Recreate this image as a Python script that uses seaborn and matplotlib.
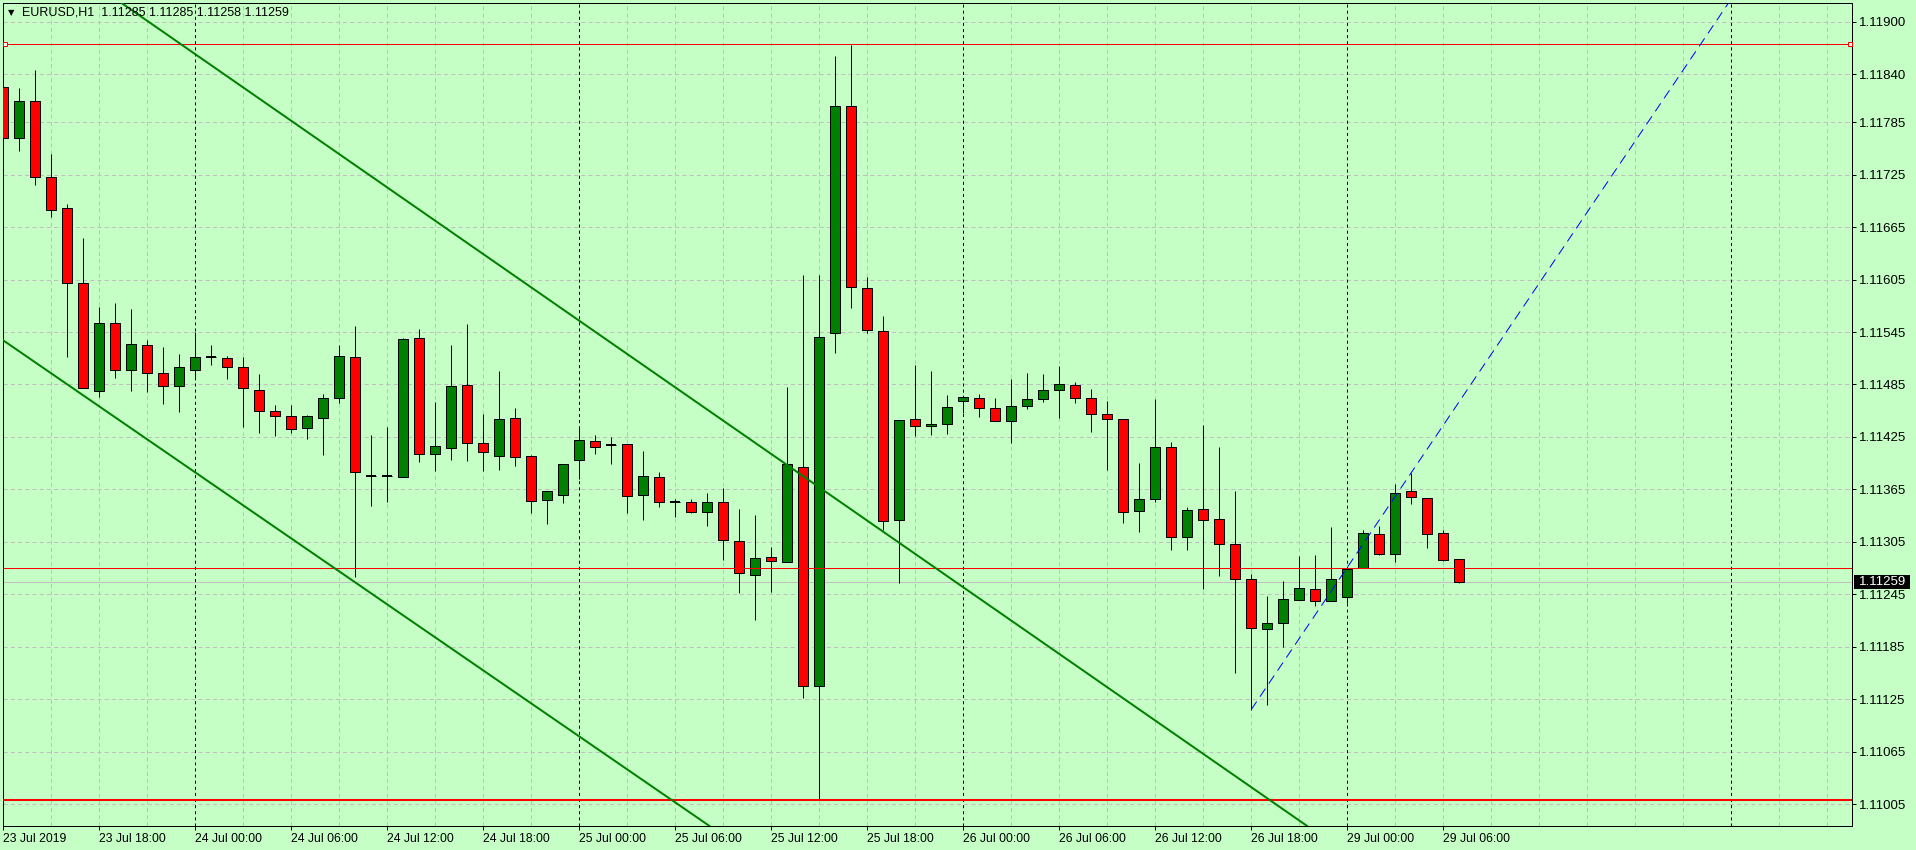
import numpy as np
import pandas as pd
import matplotlib
matplotlib.use("Agg")
import matplotlib.pyplot as plt
from matplotlib.patches import Rectangle
import seaborn as sns

# ---------------- data (EURUSD H1, bars from 23 Jul 12:00) ----------------
opens = [1.11825, 1.11767, 1.11809, 1.11722, 1.11687, 1.11601, 1.11478, 1.11555, 1.11502, 1.11530,
         1.11498, 1.11483, 1.11501, 1.11516, 1.11515, 1.11505, 1.11479, 1.11455, 1.11449, 1.11435,
         1.11447, 1.11470, 1.11516, 1.11380, 1.11380, 1.11379, 1.11538, 1.11405, 1.11412, 1.11484,
         1.11418, 1.11403, 1.11447, 1.11403, 1.11353, 1.11358, 1.11399, 1.11420, 1.11416, 1.11417,
         1.11358, 1.11379, 1.11351, 1.11351, 1.11339, 1.11351, 1.11306, 1.11267, 1.11288, 1.11282,
         1.11390, 1.11140, 1.11544, 1.11803, 1.11595, 1.11546, 1.11330, 1.11445, 1.11437, 1.11440,
         1.11466, 1.11469, 1.11458, 1.11443, 1.11460, 1.11468, 1.11479, 1.11484, 1.11470, 1.11451,
         1.11445, 1.11340, 1.11354, 1.11414, 1.11310, 1.11342, 1.11331, 1.11303, 1.11262, 1.11205,
         1.11212, 1.11238, 1.11251, 1.11237, 1.11242, 1.11275, 1.11314, 1.11291, 1.11363, 1.11355,
         1.11315, 1.11285]
highs = [1.11826, 1.11824, 1.11845, 1.11749, 1.11691, 1.11652, 1.11574, 1.11578, 1.11571, 1.11536,
         1.11528, 1.11520, 1.11545, 1.11530, 1.11518, 1.11516, 1.11497, 1.11461, 1.11462, 1.11450,
         1.11474, 1.11530, 1.11552, 1.11427, 1.11436, 1.11538, 1.11548, 1.11465, 1.11530, 1.11554,
         1.11451, 1.11500, 1.11458, 1.11404, 1.11363, 1.11394, 1.11435, 1.11427, 1.11425, 1.11417,
         1.11409, 1.11385, 1.11354, 1.11354, 1.11361, 1.11367, 1.11343, 1.11336, 1.11299, 1.11482,
         1.11610, 1.11610, 1.11861, 1.11873, 1.11608, 1.11563, 1.11444, 1.11507, 1.11500, 1.11473,
         1.11471, 1.11474, 1.11470, 1.11491, 1.11498, 1.11497, 1.11506, 1.11488, 1.11480, 1.11466,
         1.11445, 1.11395, 1.11468, 1.11419, 1.11345, 1.11439, 1.11413, 1.11363, 1.11268, 1.11243,
         1.11260, 1.11289, 1.11290, 1.11322, 1.11274, 1.11319, 1.11323, 1.11371, 1.11384, 1.11355,
         1.11319, 1.11285]
lows = [1.11756, 1.11752, 1.11713, 1.11677, 1.11516, 1.11481, 1.11471, 1.11492, 1.11477, 1.11476,
        1.11463, 1.11454, 1.11494, 1.11507, 1.11491, 1.11436, 1.11430, 1.11426, 1.11429, 1.11423,
        1.11404, 1.11464, 1.11265, 1.11346, 1.11351, 1.11379, 1.11396, 1.11386, 1.11399, 1.11398,
        1.11386, 1.11387, 1.11392, 1.11338, 1.11325, 1.11349, 1.11377, 1.11405, 1.11394, 1.11338,
        1.11330, 1.11345, 1.11333, 1.11338, 1.11323, 1.11284, 1.11247, 1.11216, 1.11248, 1.11282,
        1.11126, 1.11010, 1.11521, 1.11573, 1.11544, 1.11319, 1.11258, 1.11426, 1.11427, 1.11428,
        1.11452, 1.11448, 1.11443, 1.11418, 1.11457, 1.11465, 1.11447, 1.11464, 1.11431, 1.11387,
        1.11327, 1.11316, 1.11351, 1.11296, 1.11296, 1.11251, 1.11266, 1.11155, 1.11113, 1.11118,
        1.11185, 1.11238, 1.11232, 1.11237, 1.11235, 1.11275, 1.11290, 1.11282, 1.11348, 1.11298,
        1.11283, 1.11258]
closes = [1.11767, 1.11809, 1.11722, 1.11685, 1.11601, 1.11481, 1.11555, 1.11502, 1.11531, 1.11498,
          1.11483, 1.11505, 1.11516, 1.11516, 1.11505, 1.11481, 1.11455, 1.11449, 1.11434, 1.11449,
          1.11470, 1.11517, 1.11385, 1.11380, 1.11380, 1.11537, 1.11406, 1.11415, 1.11483, 1.11418,
          1.11408, 1.11446, 1.11402, 1.11352, 1.11363, 1.11394, 1.11421, 1.11414, 1.11416, 1.11357,
          1.11380, 1.11351, 1.11351, 1.11339, 1.11350, 1.11307, 1.11269, 1.11287, 1.11283, 1.11394,
          1.11140, 1.11539, 1.11803, 1.11596, 1.11547, 1.11329, 1.11444, 1.11438, 1.11440, 1.11459,
          1.11471, 1.11458, 1.11443, 1.11460, 1.11468, 1.11479, 1.11485, 1.11470, 1.11451, 1.11446,
          1.11339, 1.11354, 1.11413, 1.11310, 1.11341, 1.11330, 1.11303, 1.11263, 1.11206, 1.11212,
          1.11240, 1.11252, 1.11237, 1.11263, 1.11274, 1.11315, 1.11291, 1.11361, 1.11356, 1.11314,
          1.11284, 1.11259]

xtick_pos = [0, 6, 12, 18, 24, 30, 36, 42, 48, 54, 60, 66, 72, 78, 84, 90]
xtick_labels = ["23 Jul 2019", "23 Jul 18:00", "24 Jul 00:00", "24 Jul 06:00", "24 Jul 12:00",
                "24 Jul 18:00", "25 Jul 00:00", "25 Jul 06:00", "25 Jul 12:00", "25 Jul 18:00",
                "26 Jul 00:00", "26 Jul 06:00", "26 Jul 12:00", "26 Jul 18:00", "29 Jul 00:00",
                "29 Jul 06:00"]
ytick_values = [1.11900, 1.11840, 1.11785, 1.11725, 1.11665, 1.11605, 1.11545, 1.11485,
                1.11425, 1.11365, 1.11305, 1.11245, 1.11185, 1.11125, 1.11065, 1.11005]
day_separators = [12, 36, 60, 84, 108]

header_text = "EURUSD,H1  1.11285 1.11285 1.11258 1.11259"
bid_price = 1.11259
ask_price = 1.11275
hline_top = 1.11875
hline_bottom = 1.11010
blue_anchor_x = [78, 88]
blue_anchor_y = [1.11113, 1.11384]
upper_channel = [(7.11, 1.11925), (74.8, 1.11065)]
lower_channel = [(-0.2, 1.11538), (40.8, 1.11022)]

# ---------------- style ----------------
BG = "#C6FFC6"
GRID = "#C0C0C0"
BULL = "#008000"
BEAR = "#FF0000"
PX = 72.0 / 100.0  # points per pixel at dpi 100

sns.set_theme(style="white")
plt.rcParams["font.family"] = ["Liberation Sans", "DejaVu Sans"]
plt.rcParams["lines.scale_dashes"] = False

W, H = 1916, 850
fig = plt.figure(figsize=(W / 100, H / 100), dpi=100, facecolor=BG)
left_px, right_px, top_px, bot_px = 2.7, 1852.0, 2.7, 826.0
ax = fig.add_axes([left_px / W, (H - bot_px) / H, (right_px - left_px) / W, (bot_px - top_px) / H])
ax.set_facecolor(BG)

xmin, xmax = -0.03, 115.55
ymin, ymax = 1.109799, 1.119217
ax.set_xlim(xmin, xmax)
ax.set_ylim(ymin, ymax)

# grid
for yv in ytick_values:
    ax.axhline(yv, color=GRID, lw=PX, ls=(0, (3.0, 2.2)), zorder=0.5)
for xv in range(0, 116, 3):
    if xv in day_separators:
        continue
    ax.axvline(xv, color=GRID, lw=PX, ls=(0, (3.0, 2.2)), zorder=0.5)
for xv in day_separators:
    ax.axvline(xv, color="black", lw=PX, ls=(0, (2.2, 2.2)), zorder=0.6)

# candles
df = pd.DataFrame({"open": opens, "high": highs, "low": lows, "close": closes})
df["x"] = np.arange(len(df))
bull = df["close"] >= df["open"]
bottoms = np.minimum(df["open"], df["close"])
heights = (df["close"] - df["open"]).abs()
colors = np.where(bull, BULL, BEAR)
ax.vlines(df["x"], df["low"], df["high"], color="black", lw=PX, zorder=2)
ax.bar(df["x"], heights, width=0.6, bottom=bottoms, color=colors,
       edgecolor="black", linewidth=PX, zorder=3)
doji = heights < 0.000015
ax.hlines(df.loc[doji, "open"], df.loc[doji, "x"] - 0.33, df.loc[doji, "x"] + 0.33,
          color="black", lw=2 * PX, zorder=3.1)

# horizontal lines
ax.axhline(bid_price, color=GRID, lw=PX, zorder=1)
ax.axhline(ask_price, color="#FF0000", lw=PX, zorder=4)
ax.axhline(hline_top, color="#FF0000", lw=PX, zorder=4)
ax.axhline(hline_bottom, color="#FF0000", lw=2 * PX, zorder=4)
ytr = ax.get_yaxis_transform()
ax.plot([0.0014, 0.9987], [hline_top, hline_top], ls="none", marker="s", ms=3.2,
        mfc="white", mec="#FF0000", mew=PX, transform=ytr, zorder=5, clip_on=False)

# channel lines
ax.axline(upper_channel[0], upper_channel[1], color=BULL, lw=2 * PX, zorder=4)
ax.axline(lower_channel[0], lower_channel[1], color=BULL, lw=2 * PX, zorder=4)

# blue dashed ray
slope = (blue_anchor_y[1] - blue_anchor_y[0]) / (blue_anchor_x[1] - blue_anchor_x[0])
ray = pd.DataFrame({"x": [blue_anchor_x[0], xmax + 5]})
ray["y"] = blue_anchor_y[0] + slope * (ray["x"] - blue_anchor_x[0])
sns.lineplot(data=ray, x="x", y="y", ax=ax, color="#0000FF", lw=PX, estimator=None, zorder=4.5)
ax.lines[-1].set_linestyle((0, (7.0, 4.3)))
ax.set_xlabel("")
ax.set_ylabel("")

# axes, ticks
for sp in ax.spines.values():
    sp.set_color("black")
    sp.set_linewidth(PX)
    sp.set_visible(True)
ax.set_xticks(xtick_pos)
ax.set_xticklabels(xtick_labels, ha="left", fontsize=8.8)
ax.set_yticks(ytick_values)
ax.set_yticklabels([f"{v:.5f}" for v in ytick_values], fontsize=9.5)
ax.tick_params(axis="x", bottom=True, direction="out", length=4 * PX, width=PX,
               color="black", pad=2.0, labelcolor="black")
ax.tick_params(axis="y", left=False, right=True, labelleft=False, labelright=True,
               direction="out", length=4 * PX, width=PX, color="black", pad=2.2,
               labelcolor="black")
ax.grid(False)

# current price box
bid_y_px = 582.3
fig.add_artist(Rectangle((1854 / W, (H - bid_y_px - 6.7) / H), 56 / W, 13.6 / H,
                         transform=fig.transFigure, facecolor="black", edgecolor="none", zorder=5))
fig.text(1859 / W, (H - bid_y_px) / H, f"{bid_price:.5f}", color="white", fontsize=9.5,
         ha="left", va="center", zorder=6)

# header
fig.text(10.8 / W, 1 - 12.5 / H, "▼", fontsize=6, ha="center", va="center",
         family=["DejaVu Sans"], color="black")
fig.text(21.7 / W, 1 - 12.7 / H, header_text, fontsize=9, ha="left", va="center", color="black")

fig.savefig("out.png", dpi=100, facecolor=BG)
